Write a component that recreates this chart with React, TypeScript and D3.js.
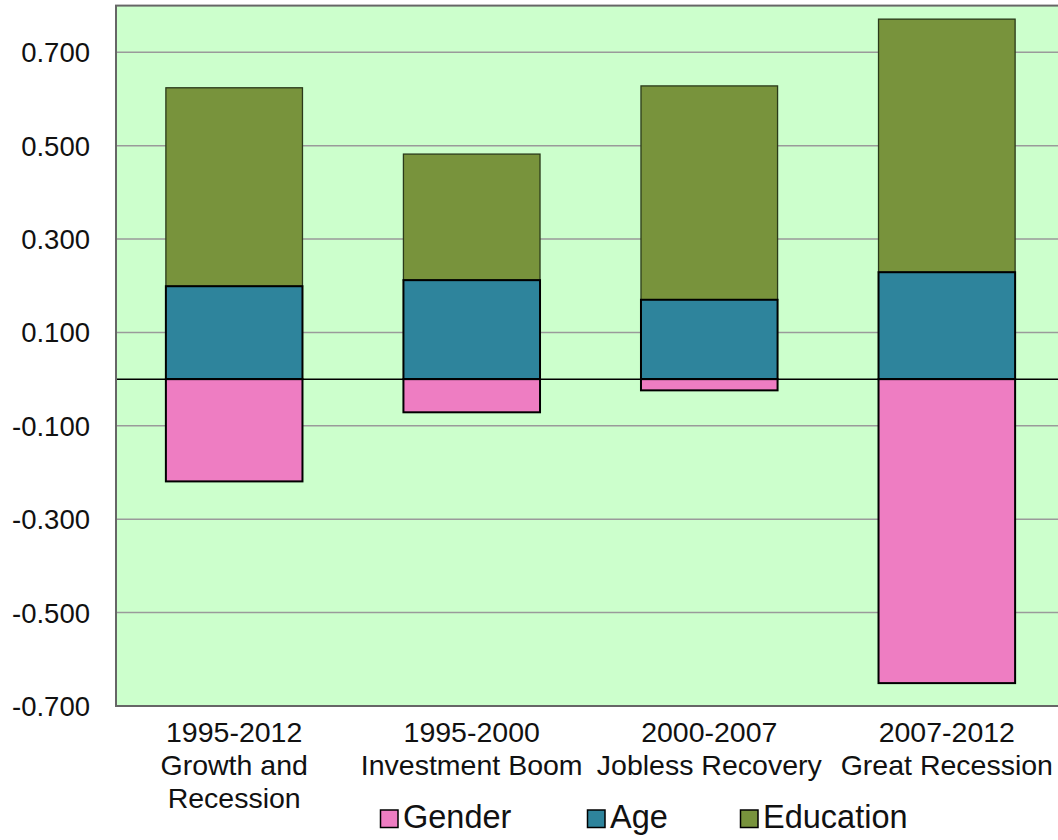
import React from "react";
import * as d3 from "d3";

const categories = [
  ["1995-2012", "Growth and", "Recession"],
  ["1995-2000", "Investment Boom"],
  ["2000-2007", "Jobless Recovery"],
  ["2007-2012", "Great Recession"],
];
const gender = [-0.219, -0.071, -0.024, -0.651];
const age = [0.199, 0.212, 0.17, 0.229];
const education = [0.425, 0.27, 0.458, 0.542];
const yTicks = [0.7, 0.5, 0.3, 0.1, -0.1, -0.3, -0.5, -0.7];

const seriesNames = ["Gender", "Age", "Education"];
const colors = ["#EE7DC2", "#2E849C", "#78933C"];

const W = 1058;
const H = 840;
// The plot frame runs past the right edge of the page.
const plot = { left: 116, right: 1065, top: 5.6, bottom: 706 };
const font = "'Liberation Sans', Arial, sans-serif";

export default function App() {
  const x = d3
    .scaleBand<number>()
    .domain(d3.range(categories.length))
    .range([plot.left, plot.right])
    .paddingInner(0.425)
    .paddingOuter(0.21);
  const y = d3.scaleLinear().domain([-0.7, 0.8]).range([plot.bottom, plot.top]);

  const fmt = (v: number) => d3.format(".3f")(v).replace("\u2212", "-");

  return (
    <svg
      width={W}
      height={H}
      style={{ position: "absolute", left: 0, top: 0, display: "block" }}
      fontFamily={font}
    >
      <rect x={0} y={0} width={W} height={H} fill="#ffffff" />
      <rect
        x={plot.left}
        y={plot.top}
        width={plot.right - plot.left}
        height={plot.bottom - plot.top}
        fill="#CCFFCC"
      />
      {yTicks.map((t) => (
        <line
          key={t}
          x1={plot.left}
          x2={plot.right}
          y1={y(t)}
          y2={y(t)}
          stroke="#9a9a9a"
          strokeWidth={1.5}
        />
      ))}
      {yTicks.map((t) => (
        <text
          key={"l" + t}
          x={90}
          y={y(t) + 10}
          textAnchor="end"
          fontSize={27.5}
          fill="#111"
        >
          {fmt(t)}
        </text>
      ))}

      {categories.map((_, i) => {
        const bx = x(i)!;
        const bw = x.bandwidth();
        const ageTop = age[i];
        const eduTop = age[i] + education[i];
        return (
          <g key={i}>
            <rect
              x={bx}
              y={y(eduTop)}
              width={bw}
              height={y(ageTop) - y(eduTop)}
              fill={colors[2]}
              stroke="#2a3a1a"
              strokeWidth={1.3}
            />
            <rect
              x={bx}
              y={y(ageTop)}
              width={bw}
              height={y(0) - y(ageTop)}
              fill={colors[1]}
              stroke="#000"
              strokeWidth={2}
            />
            <rect
              x={bx}
              y={y(0)}
              width={bw}
              height={y(gender[i]) - y(0)}
              fill={colors[0]}
              stroke="#000"
              strokeWidth={2}
            />
          </g>
        );
      })}

      <line
        x1={plot.left}
        x2={plot.right}
        y1={y(0)}
        y2={y(0)}
        stroke="#000"
        strokeWidth={1.5}
      />
      <rect
        x={plot.left}
        y={plot.top}
        width={plot.right - plot.left}
        height={plot.bottom - plot.top}
        fill="none"
        stroke="#666"
        strokeWidth={2}
      />

      {categories.map((lines, i) => (
        <text
          key={"c" + i}
          x={x(i)! + x.bandwidth() / 2}
          y={742}
          textAnchor="middle"
          fontSize={28.5}
          fill="#111"
        >
          {lines.map((ln, j) => (
            <tspan key={j} x={x(i)! + x.bandwidth() / 2} dy={j === 0 ? 0 : 33}>
              {ln}
            </tspan>
          ))}
        </text>
      ))}

      {seriesNames.map((name, k) => {
        const lx = [380, 587, 740][k];
        return (
          <g key={name}>
            <rect
              x={lx + 0.5}
              y={810}
              width={17.5}
              height={17.5}
              fill={colors[k]}
              stroke="#000"
              strokeWidth={1.5}
            />
            <text x={lx + 23} y={828} fontSize={32.5} fill="#111">
              {name}
            </text>
          </g>
        );
      })}
    </svg>
  );
}
